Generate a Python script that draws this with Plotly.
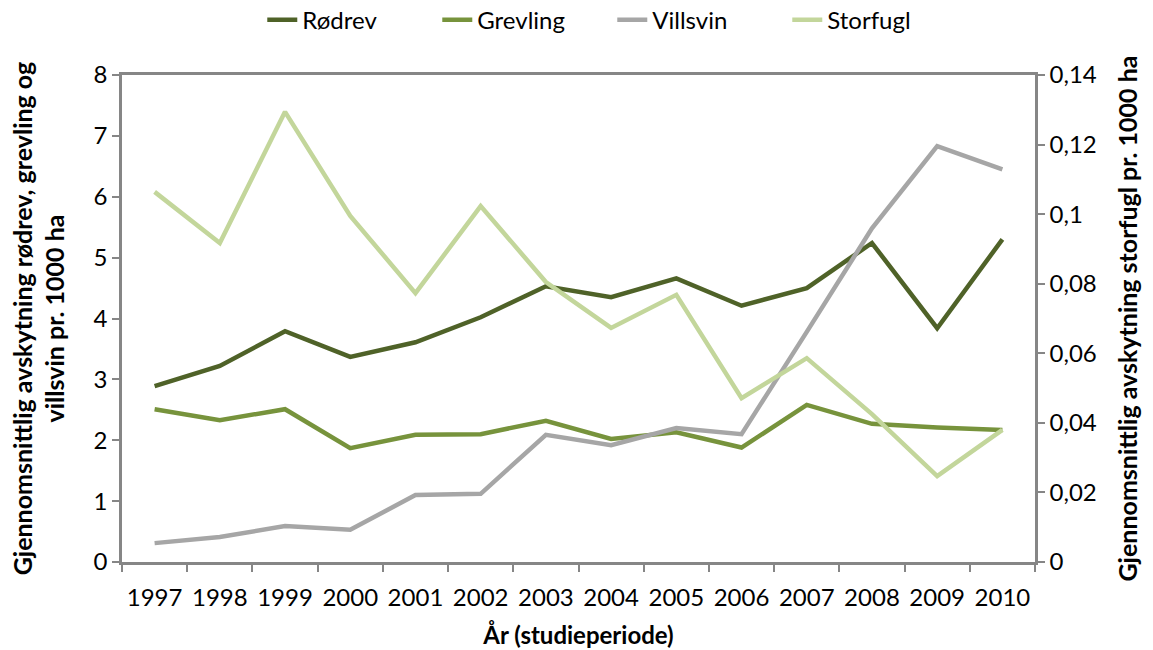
import plotly.graph_objects as go

# Years of the study period
years = ["1997", "1998", "1999", "2000", "2001", "2002", "2003",
         "2004", "2005", "2006", "2007", "2008", "2009", "2010"]

# Average harvest per 1000 ha (left axis)
rodrev = [2.89, 3.22, 3.79, 3.37, 3.61, 4.02, 4.53, 4.35, 4.66, 4.21, 4.50, 5.24, 3.84, 5.30]
grevling = [2.51, 2.33, 2.51, 1.87, 2.09, 2.10, 2.32, 2.02, 2.13, 1.88, 2.58, 2.27, 2.21, 2.17]
villsvin = [0.31, 0.41, 0.59, 0.53, 1.10, 1.12, 2.09, 1.92, 2.20, 2.10, 3.78, 5.48, 6.83, 6.45]

# Average harvest per 1000 ha (right axis)
storfugl = [0.1064, 0.0917, 0.1294, 0.0995, 0.0773, 0.1023, 0.0805,
            0.0673, 0.0768, 0.0471, 0.0586, 0.0425, 0.0247, 0.0380]

left_ticks = [0, 1, 2, 3, 4, 5, 6, 7, 8]
right_ticks = [0, 0.02, 0.04, 0.06, 0.08, 0.10, 0.12, 0.14]
right_labels = ["0", "0,02", "0,04", "0,06", "0,08", "0,1", "0,12", "0,14"]

FONT = "Lato"
AXIS_COLOR = "#868686"

fig = go.Figure()
series = [
    ("Rødrev", rodrev, "#4F6228", "y"),
    ("Grevling", grevling, "#77933C", "y"),
    ("Villsvin", villsvin, "#A6A6A6", "y"),
    ("Storfugl", storfugl, "#C3D69B", "y2"),
]
for name, vals, color, ax in series:
    fig.add_trace(go.Scatter(
        x=years, y=vals, name=name, mode="lines", yaxis=ax,
        line=dict(color=color, width=4.5),
    ))

fig.update_layout(
    width=1153, height=650,
    margin=dict(l=122, r=118, t=75, b=88),
    paper_bgcolor="white", plot_bgcolor="white",
    font=dict(family=FONT, size=24, color="black"),
    showlegend=True,
    legend=dict(orientation="h", x=0.537, xanchor="center",
                yref="container", y=0.969, yanchor="middle",
                font=dict(size=24), entrywidth=130, traceorder="normal"),
    xaxis=dict(
        type="category", range=[-0.5, 13.5], tickangle=0, automargin=False,
        showline=True, linecolor=AXIS_COLOR, linewidth=2.5, mirror=True,
        ticks="outside", tickson="boundaries", ticklen=7, tickcolor=AXIS_COLOR, tickwidth=2,
        ticklabelstandoff=12,
        showgrid=False, zeroline=False,
        title=dict(text="<b>År (studieperiode)</b>", font=dict(size=24), standoff=18),
    ),
    yaxis=dict(
        range=[0, 8], tickvals=left_ticks, automargin=False,
        showline=True, linecolor=AXIS_COLOR, linewidth=2.5,
        ticks="outside", ticklen=7, tickcolor=AXIS_COLOR, tickwidth=2,
        showgrid=False, zeroline=False,
        title=dict(text="<b>Gjennomsnittlig avskytning rødrev, grevling og<br>villsvin pr. 1000 ha</b>",
                   font=dict(size=25), standoff=22),
    ),
    yaxis2=dict(
        range=[0, 0.14], tickvals=right_ticks, ticktext=right_labels, automargin=False,
        overlaying="y", side="right",
        showline=True, linecolor=AXIS_COLOR, linewidth=2.5,
        ticks="outside", ticklen=7, tickcolor=AXIS_COLOR, tickwidth=2,
        showgrid=False, zeroline=False,
        title=dict(text="<b>Gjennomsnittlig avskytning storfugl pr. 1000 ha</b>",
                   font=dict(size=25), standoff=24),
    ),
)

fig.write_html("out.html")
